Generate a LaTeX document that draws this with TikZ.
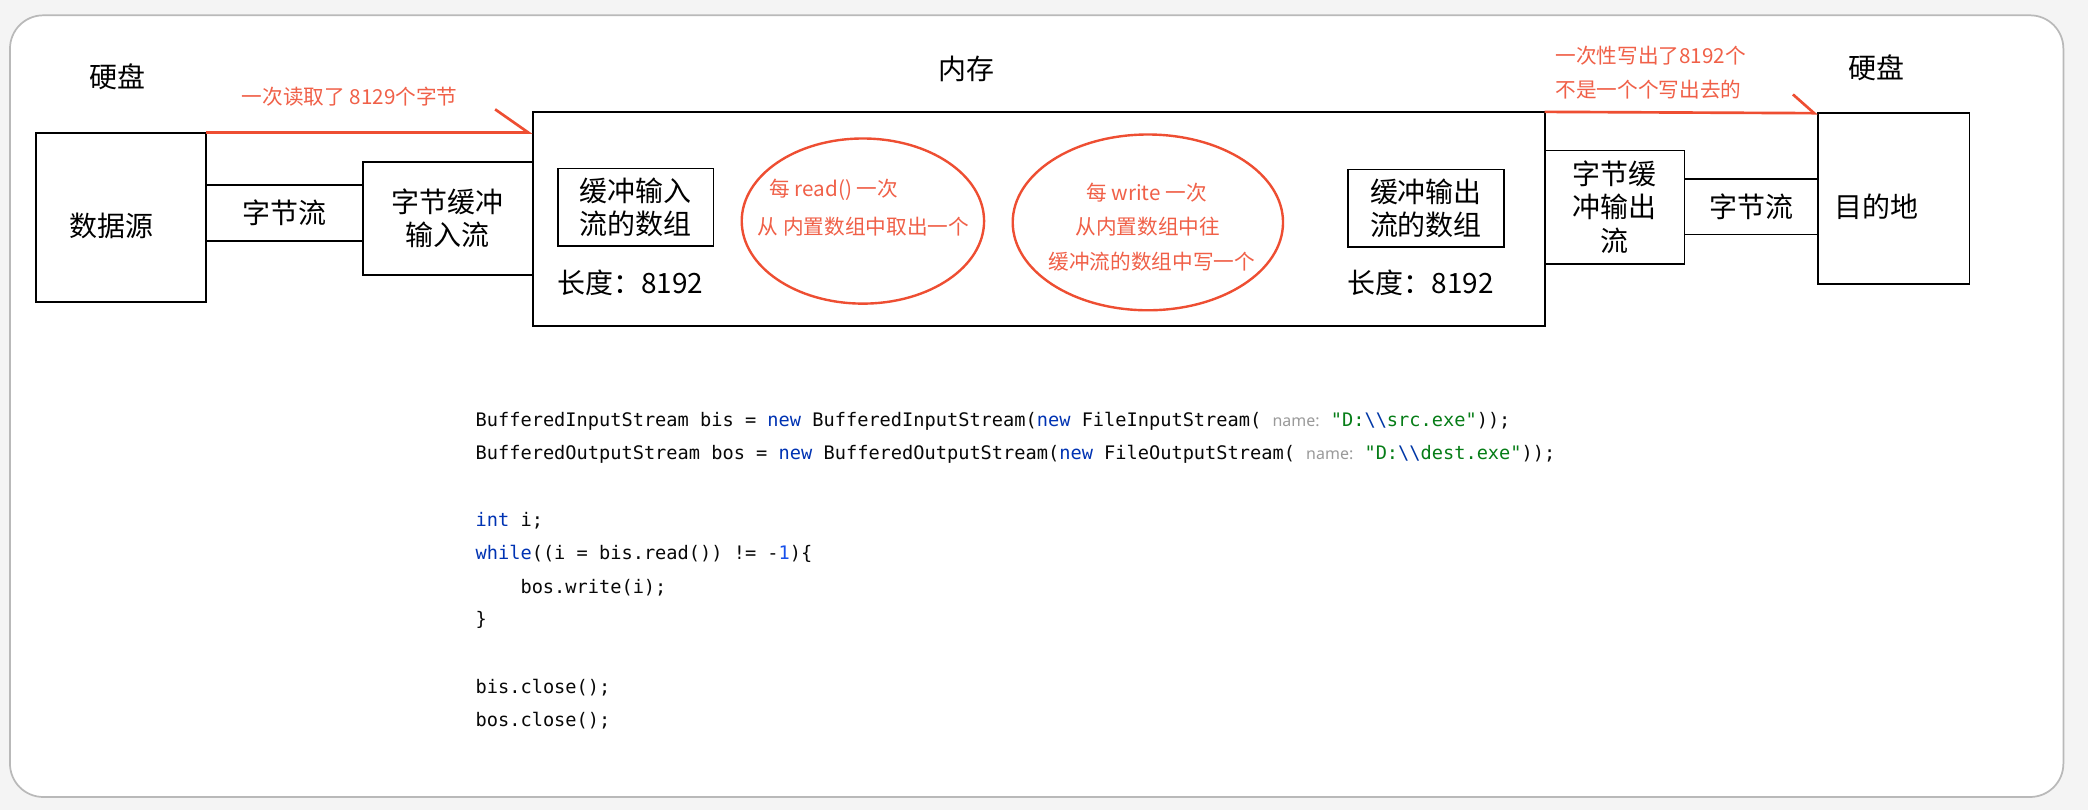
\documentclass[tikz,border=0pt]{standalone}
\usepackage{fontspec}
\setmainfont{Noto Sans CJK SC}
\setmonofont{DejaVu Sans Mono}
\newfontfamily\hintfont{Noto Sans}
\usetikzlibrary{arrows.meta}

\definecolor{pagebg}{RGB}{244,244,244}
\definecolor{annored}{RGB}{238,78,50}
\definecolor{annotext}{RGB}{240,96,72}
\definecolor{kwblue}{HTML}{0033B3}
\definecolor{strgreen}{HTML}{067D17}
\definecolor{numblue}{HTML}{1750EB}
\definecolor{escblue}{HTML}{0037A6}
\definecolor{hintgray}{HTML}{9A9A9A}
\definecolor{codeblack}{HTML}{080808}

\newcommand{\jkw}[1]{\textcolor{kwblue}{#1}}
\newcommand{\jstr}[1]{\textcolor{strgreen}{#1}}
\newcommand{\jnum}[1]{\textcolor{numblue}{#1}}
\newcommand{\jesc}{\textcolor{escblue}{\textbackslash\textbackslash}}
\newcommand{\jhint}[1]{{\hintfont\fontsize{12}{14}\selectfont\textcolor{hintgray}{#1}}}

\tikzset{
	part/.style={draw, line width=1.4pt, inner sep=0pt, outer sep=0pt},
	lbl/.style={font=\fontsize{21}{25}\selectfont, align=center, inner sep=0pt},
	note/.style={text=annotext, font=\fontsize{15.5}{19}\selectfont, inner sep=0pt},
	ring/.style={draw=annored, line width=1.8pt},
	flow/.style={draw=annored, line width=2pt},
	code/.style={anchor=base west, inner sep=0pt, text=codeblack, font=\ttfamily\fontsize{14}{17}\selectfont}
}

\begin{document}
\begin{tikzpicture}[x=1pt, y=-1pt]
	\fill[pagebg] (0,0) rectangle (1568,608);
	\useasboundingbox (0,0) rectangle (1568,608);
	\draw[gray!55, line width=1.3pt, fill=white, rounded corners=25pt] (7.5,11.5) rectangle (1549.5,598.5);

	% disk side, input
	\node[lbl] (ldisk) at (88,57.6) {硬盘};
	\node[part, minimum width=128pt, minimum height=127.4pt] (src) at (90.8,163.3) {};
	\node[lbl] (srctxt) at (84,170) {数据源};
	\node[part, lbl, minimum width=118pt, minimum height=41.7pt] (lbs) at (213.6,159.9) {字节流};
	\node[part, lbl, minimum width=127.4pt, minimum height=84.4pt] (bis) at (336.3,164) {字节缓冲\\输入流};

	% memory
	\node[lbl] (ram) at (726,52) {内存};
	\node[part, minimum width=760pt, minimum height=161pt] (mem) at (780,164.5) {};
	\node[part, lbl, minimum width=116.7pt, minimum height=58pt] (inarr) at (477.4,155.5) {缓冲输入\\流的数组};
	\node[lbl] (inlen) at (473.3,212) {长度：8192};
	\node[part, lbl, minimum width=116.7pt, minimum height=58pt] (outarr) at (1070.8,156.3) {缓冲输出\\流的数组};
	\node[lbl] (outlen) at (1067,212) {长度：8192};

	\draw[ring] (648,166) ellipse [x radius=91pt, y radius=62pt];
	\node[note, anchor=west] (rd1) at (577.8,142.7) {每 read() 一次};
	\node[note, anchor=west] (rd2) at (569,170) {从 内置数组中取出一个};
	\draw[ring] (862,167) ellipse [x radius=101.5pt, y radius=66pt];
	\node[note] (wr1) at (861,145) {每 write 一次};
	\node[note] (wr2) at (862,170) {从内置数组中往};
	\node[note] (wr3) at (865,196.5) {缓冲流的数组中写一个};

	% disk side, output
	\node[part, lbl, minimum width=105pt, minimum height=85pt] (bos) at (1212.5,155.5) {字节缓\\冲输出\\流};
	\node[part, lbl, minimum width=100pt, minimum height=41.5pt] (rbs) at (1315,155.3) {字节流};
	\node[part, minimum width=114pt, minimum height=128pt] (dst) at (1422,149) {};
	\node[lbl] (dsttxt) at (1409,155) {目的地};
	\node[lbl] (rdisk) at (1409,51) {硬盘};

	% red notes
	\node[note, anchor=west] (readall) at (181.5,72.6) {一次读取了 8129个字节};
	\draw[flow, -{Straight Barb[left, length=25pt, width=35pt]}] (src.north east) -- (src.north east -| mem.west);
	\node[note, anchor=west] (writeall) at (1168,42) {一次性写出了8192个};
	\node[note, anchor=west] (notone) at (1168,67.6) {不是一个个写出去的};
	\draw[flow, -{Straight Barb[left, length=16pt, width=28pt]}] (mem.north east) -- (dst.north west);

	% code
	\node[code] (c1) at (357,320.4) {BufferedInputStream bis = \jkw{new} BufferedInputStream(\jkw{new} FileInputStream( \jhint{name:} \jstr{"D:}\jesc\jstr{src.exe"}));};
	\node[code] (c2) at (357,345) {BufferedOutputStream bos = \jkw{new} BufferedOutputStream(\jkw{new} FileOutputStream( \jhint{name:} \jstr{"D:}\jesc\jstr{dest.exe"}));};
	\node[code] (c3) at (357,395.5) {\jkw{int} i;};
	\node[code] (c4) at (357,420) {\jkw{while}((i = bis.read()) != -\jnum{1})\{};
	\node[code] (c5) at (390.7,445.6) {bos.write(i);};
	\node[code] (c6) at (357,470) {\}};
	\node[code] (c7) at (357,520.7) {bis.close();};
	\node[code] (c8) at (357,545.7) {bos.close();};
\end{tikzpicture}
\end{document}
